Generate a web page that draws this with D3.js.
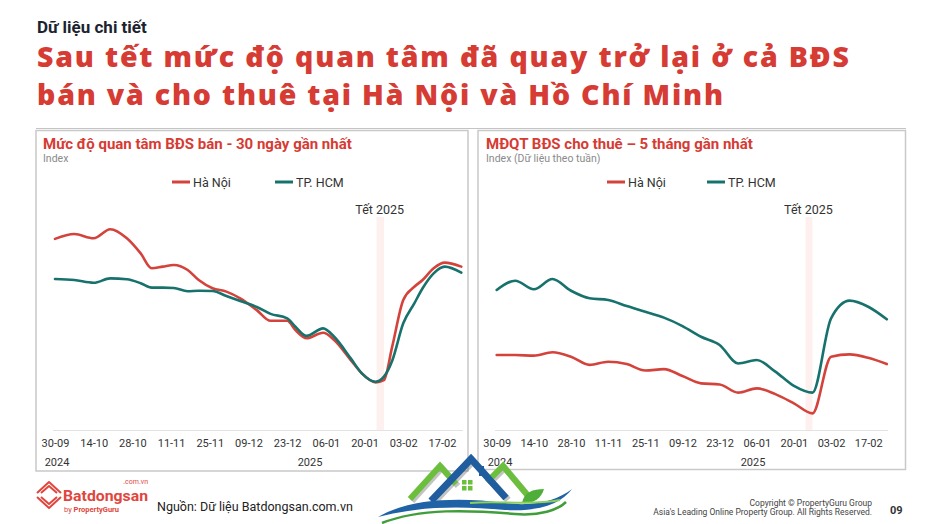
<!DOCTYPE html>
<html><head><meta charset="utf-8">
<script src="https://cdn.jsdelivr.net/npm/d3@7/dist/d3.min.js"></script>
<style>
html,body{margin:0;padding:0;background:#fff;}
svg{display:block;}
</style></head>
<body>
<svg id="c" width="940" height="524"></svg>
<script>
// ---------- DATA ----------
const seriesNames = ["Hà Nội", "TP. HCM"];
const tickDates = ["2024-09-30","2024-10-14","2024-10-28","2024-11-11","2024-11-25","2024-12-09","2024-12-23","2025-01-06","2025-01-20","2025-02-03","2025-02-17"];
const tetBand = ["2025-01-24","2025-01-27"];

// Left panel: sale interest, 30-day rolling (index)
const leftDates = ["2024-09-30","2024-10-07","2024-10-14","2024-10-20","2024-10-26","2024-10-31","2024-11-04","2024-11-08","2024-11-12","2024-11-17","2024-11-21","2024-11-26","2024-12-01","2024-12-06","2024-12-12","2024-12-17","2024-12-23","2024-12-26","2024-12-30","2025-01-05","2025-01-09","2025-01-15","2025-01-19","2025-01-24","2025-01-27","2025-01-30","2025-02-03","2025-02-07","2025-02-10","2025-02-14","2025-02-18","2025-02-24"];
const leftHaNoi = [91.0,93.3,91.3,95.6,91.3,84.1,77.0,77.8,78.6,76.2,71.4,67.5,65.9,62.7,57.1,52.0,52.0,47.6,43.7,46.3,42.9,33.3,27.0,22.7,23.8,39.7,61.9,68.2,71.4,77.0,79.7,77.8];
const leftHCM   = [71.9,71.4,70.1,72.2,71.8,69.9,67.8,67.8,67.6,66.1,66.3,66.2,63.8,61.4,58.6,55.3,53.2,49.2,44.8,48.4,44.4,34.1,27.0,23.0,25.4,33.0,50.8,60.3,67.5,74.6,77.8,74.9];

// Right panel: rent interest, weekly (index)
const rightDates = ["2024-09-30","2024-10-07","2024-10-14","2024-10-21","2024-10-28","2024-11-04","2024-11-11","2024-11-18","2024-11-25","2024-12-02","2024-12-09","2024-12-16","2024-12-23","2024-12-30","2025-01-06","2025-01-13","2025-01-20","2025-01-27","2025-02-03","2025-02-10","2025-02-17","2025-02-24"];
const rightHaNoi = [35.7,35.7,35.4,37.0,34.9,31.0,32.5,31.4,28.3,29.0,25.7,22.2,21.7,17.8,19.8,17.1,12.7,7.9,34.9,36.0,34.4,31.4];
const rightHCM   = [66.7,71.1,67.0,71.9,66.3,62.7,61.9,59.0,56.3,53.5,49.5,44.4,40.5,31.7,33.3,27.8,21.0,17.8,53.2,61.6,58.7,52.7];

// ---------- STYLE ----------
const RED = "#d4433b", TEAL = "#17726d", TITLE_RED = "#d63b34";
const parse = d3.timeParse("%Y-%m-%d");
const fmt = d3.timeFormat("%d-%m");
const FONT = "Roboto, 'Noto Sans', sans-serif";

const svg = d3.select("#c");

function fitSpacing(el, target){
  const w = el.node().getComputedTextLength();
  const n = el.text().length;
  el.attr("letter-spacing", ((target - w)/Math.max(1,n-1)).toFixed(3));
}

// Header
svg.append("text").attr("x",37).attr("y",33).attr("font-family",FONT).attr("font-weight",700)
  .attr("font-size",17).attr("fill","#1b2330").text("Dữ liệu chi tiết");
const titleLines = ["Sau tết mức độ quan tâm đã quay trở lại ở cả BĐS","bán và cho thuê tại Hà Nội và Hồ Chí Minh"];
const titleW = [812, 686];
titleLines.forEach((t,i)=>{
  const el = svg.append("text").attr("x",37).attr("y",[67,104.5][i]).attr("font-family","'Open Sans', 'Noto Sans', sans-serif")
    .attr("font-weight",800).attr("font-size",28.5).attr("fill",TITLE_RED).text(t);
  fitSpacing(el, titleW[i]);
});
svg.append("line").attr("x1",36).attr("x2",906).attr("y1",128.5).attr("y2",128.5).attr("stroke","#c4c4c4").attr("stroke-width",1.2);

function panel(cfg){
  const g = svg.append("g");
  g.append("rect").attr("x",cfg.box[0]).attr("y",cfg.box[1]).attr("width",cfg.box[2]-cfg.box[0]).attr("height",cfg.box[3]-cfg.box[1])
    .attr("fill","#fff").attr("stroke","#c9c9c9").attr("stroke-width",1.5);
  g.append("text").attr("x",cfg.tx).attr("y",149).attr("font-family",FONT).attr("font-weight",700).attr("font-size",15)
    .attr("fill",TITLE_RED).text(cfg.title);
  g.append("text").attr("x",cfg.tx).attr("y",161.5).attr("font-family",FONT).attr("font-size",10.5)
    .attr("fill","#8a8a8a").text(cfg.sub);
  // legend
  const colors=[RED,TEAL];
  cfg.legend.forEach((lx,i)=>{
    g.append("line").attr("x1",lx).attr("x2",lx+18).attr("y1",182).attr("y2",182).attr("stroke",colors[i]).attr("stroke-width",3);
    g.append("text").attr("x",lx+21).attr("y",186.5).attr("font-family",FONT).attr("font-size",12.5).attr("fill","#333").text(seriesNames[i]);
  });
  const x = d3.scaleTime().domain([parse("2024-09-30"),parse("2025-02-24")]).range(cfg.xr);
  const y = d3.scaleLinear().domain([0,100]).range([430,220]);
  // Tết band
  const b0 = x(parse(tetBand[0])), b1 = x(parse(tetBand[1]));
  g.append("rect").attr("x",b0+1).attr("y",217).attr("width",b1-b0-1).attr("height",213).attr("fill","#fdf0ef");
  g.append("text").attr("x",(b0+b1)/2).attr("y",214).attr("text-anchor","middle").attr("font-family",FONT)
    .attr("font-size",12.5).attr("fill","#333").text("Tết 2025");
  // axis
  const ax = d3.axisBottom(x).tickValues(tickDates.map(parse)).tickFormat(fmt).tickSize(0).tickPadding(9);
  const axg = g.append("g").attr("transform","translate(0,430)").call(ax);
  axg.select(".domain").attr("stroke","#e3e3e3").attr("d",`M${cfg.axr[0]},0.5H${cfg.axr[1]}`);
  axg.selectAll("text").attr("font-family",FONT).attr("font-size",11).attr("fill","#333");
  // years
  cfg.years.forEach(([yr,dx])=>{
    g.append("text").attr("x",dx).attr("y",466).attr("text-anchor","middle").attr("font-family",FONT)
      .attr("font-size",11).attr("fill","#333").text(yr);
  });
  // lines
  const line = d3.line().x(d=>x(d[0])).y(d=>y(d[1])).curve(d3.curveMonotoneX);
  const dates = cfg.dates.map(parse);
  [[cfg.hn,RED],[cfg.hcm,TEAL]].forEach(([vals,col])=>{
    g.append("path").datum(dates.map((d,i)=>[d,vals[i]])).attr("d",line).attr("fill","none")
      .attr("stroke",col).attr("stroke-width",2.6).attr("stroke-linejoin","round").attr("stroke-linecap","round");
  });
}

panel({box:[36,130.5,468,471], tx:43, title:"Mức độ quan tâm BĐS bán - 30 ngày gần nhất", sub:"Index",
  legend:[172,275], xr:[55,461.3], axr:[53,463], years:[["2024",57],["2025",310]],
  dates:leftDates, hn:leftHaNoi, hcm:leftHCM});
panel({box:[478,130.5,905.5,469.5], tx:486, title:"MĐQT BĐS cho thuê – 5 tháng gần nhất", sub:"Index (Dữ liệu theo tuần)",
  legend:[607,707], xr:[496.7,886.8], axr:[495,888], years:[["2024",500],["2025",753]],
  dates:rightDates, hn:rightHaNoi, hcm:rightHCM});

// ---------- FOOTER ----------
const f = svg.append("g");
// Batdongsan icon
f.append("path").attr("d","M37,493 L49,482 L61,493 M41,493 L49,486 L57,493 M37,497 L49,508 L61,497 M41,497 L49,504 L57,497")
  .attr("fill","none").attr("stroke","#e0463d").attr("stroke-width",2).attr("stroke-linejoin","round");
const bds = f.append("text").attr("x",63).attr("y",500.5).attr("font-family",FONT).attr("font-weight",700).attr("font-size",15)
  .attr("fill","#e0463d").text("Batdongsan");
bds.attr("textLength",85).attr("lengthAdjust","spacingAndGlyphs");
f.append("text").attr("x",148).attr("y",484).attr("text-anchor","end").attr("font-family",FONT).attr("font-size",7)
  .attr("fill","#e0463d").text(".com.vn");
f.append("text").attr("x",64).attr("y",512).attr("font-family",FONT).attr("font-size",7.5).attr("fill","#e0463d")
  .html('by <tspan font-weight="700">PropertyGuru</tspan>');
f.append("text").attr("x",157).attr("y",511).attr("font-family",FONT).attr("font-size",12.5).attr("fill","#222")
  .text("Nguồn: Dữ liệu Batdongsan.com.vn");
f.append("text").attr("x",872).attr("y",506).attr("text-anchor","end").attr("font-family",FONT).attr("font-size",8.5)
  .attr("fill","#444").text("Copyright © PropertyGuru Group");
f.append("text").attr("x",872).attr("y",515).attr("text-anchor","end").attr("font-family",FONT).attr("font-size",8.5)
  .attr("fill","#444").text("Asia's Leading Online Property Group. All Rights Reserved.");
f.append("text").attr("x",890).attr("y",514).attr("font-family",FONT).attr("font-weight",700).attr("font-size",11)
  .attr("fill","#333").text("09");

// watermark logo (decorative)
const w = svg.append("g");
const sh = w.append("g").attr("transform","translate(2,2)").attr("opacity",0.35);
const roofs = [
  ["M410,499 L440,466 L456,484","#6cbf3c",6],
  ["M487,482 L503,466 L529,497","#6cbf3c",6],
  ["M431,501 L471,459 L506,498","#1f5d9e",7]
];
roofs.forEach(([d,c,sw])=>sh.append("path").attr("d",d).attr("fill","none").attr("stroke","#555").attr("stroke-width",sw));
roofs.forEach(([d,c,sw])=>w.append("path").attr("d",d).attr("fill","none").attr("stroke",c).attr("stroke-width",sw).attr("stroke-linejoin","miter"));
w.append("rect").attr("x",479).attr("y",466).attr("width",5).attr("height",10).attr("fill","#1f5d9e");
[[462,480],[468,480],[462,486],[468,486]].forEach(([a,b])=>w.append("rect").attr("x",a).attr("y",b).attr("width",4.5).attr("height",4.5).attr("fill","#6cbf3c"));
w.append("path").attr("d","M522,503 C524,492 533,489 544,489 C541,499 533,504 522,503 Z").attr("fill","#4fae3a");
w.append("path").attr("d","M378,517 C410,498 460,497 505,503 C535,507 558,500 572,489 C562,503 540,512 505,510 C460,506 420,506 378,517 Z").attr("fill","#1f62a6");
w.append("path").attr("d","M382,523 C420,508 470,510 515,514 C540,516 558,510 566,502").attr("fill","none").attr("stroke","#3f9e3a").attr("stroke-width",2.5);
w.append("path").attr("d","M470,503 C500,500 530,506 560,500").attr("fill","none").attr("stroke","#8bd05a").attr("stroke-width",2);
</script>
</body></html>
